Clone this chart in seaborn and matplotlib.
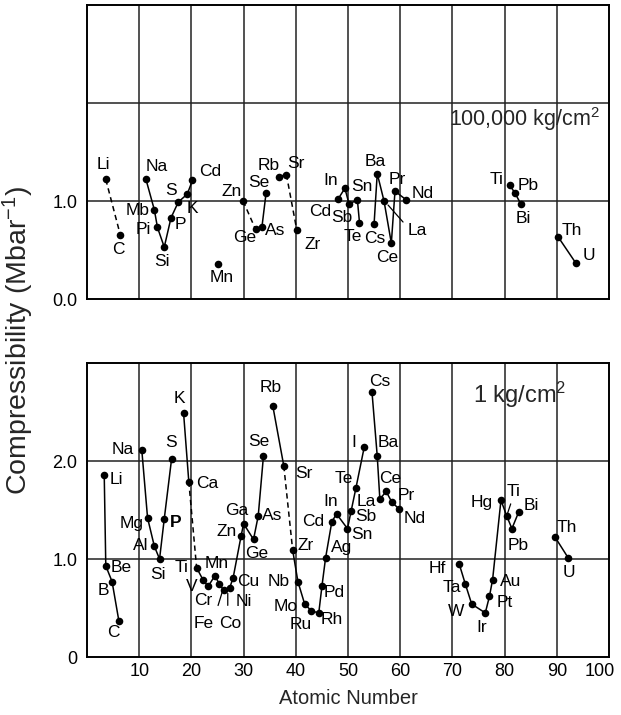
import matplotlib
matplotlib.use("Agg")
import matplotlib.pyplot as plt
import matplotlib.transforms as mtransforms
import pandas as pd
import seaborn as sns

# ---------------- data ----------------
# Upper panel: compressibility at 100,000 kg/cm^2
top_labels = ["Li", "C", "Na", "Mb", "Pi", "Si", "P", "S", "K", "Cd",
              "Mn", "Zn", "Ge", "As", "Se", "Rb", "Sr", "Zr",
              "Cd", "In", "Sb", "Sn", "Te",
              "Cs", "Ba", "La", "Ce", "Pr", "Nd",
              "Ti", "Pb", "Bi", "Th", "U"]
top_x = [3.6, 6.4, 11.3, 12.9, 13.5, 14.8, 16.1, 17.5, 19.2, 20.2,
         25.1, 29.9, 32.3, 33.5, 34.3, 36.8, 38.2, 40.2,
         48.1, 49.4, 50.2, 51.8, 52.2,
         55.0, 55.6, 56.9, 58.3, 59.0, 61.2,
         81.0, 82.0, 83.1, 90.3, 93.6]
top_y = [1.22, 0.65, 1.22, 0.91, 0.73, 0.53, 0.83, 0.99, 1.07, 1.21,
         0.36, 1.00, 0.71, 0.73, 1.08, 1.25, 1.27, 0.70,
         1.02, 1.13, 0.97, 1.01, 0.78,
         0.77, 1.28, 1.00, 0.57, 1.10, 1.01,
         1.16, 1.08, 0.97, 0.63, 0.37]
top_chain = [0, 1, 2, 2, 2, 2, 2, 2, 2, 2,
             3, 4, 5, 5, 5, 6, 6, 7,
             8, 8, 8, 8, 8,
             9, 9, 9, 9, 9, 9,
             10, 10, 10, 11, 11]
top_dashed = [(0, 1), (11, 12), (16, 17)]

# Lower panel: compressibility at 1 kg/cm^2
bot_labels = ["Li", "Be", "B", "C",
              "Na", "Mg", "Al", "Si", "P", "S",
              "K", "Ca",
              "Ti", "V", "Cr", "Mn", "Fe", "Co", "Ni", "Cu", "Zn", "Ga", "Ge", "As", "Se",
              "Rb", "Sr",
              "Zr", "Nb", "Mo", "Ru", "Rh", "Pd", "Ag", "Cd", "In", "Sn", "Sb", "Te", "I",
              "Cs", "Ba", "La", "Ce", "Pr", "Nd",
              "Hf", "Ta", "W", "Ir", "Pt", "Au", "Hg", "Ti", "Pb", "Bi",
              "Th", "U"]
bot_x = [3.3, 3.6, 4.8, 6.1,
         10.5, 11.6, 12.9, 13.9, 14.8, 16.2,
         18.5, 19.5,
         21.0, 22.2, 23.2, 24.5, 25.3, 26.2, 27.3, 28.0, 29.5, 30.0, 31.9, 32.8, 33.8,
         35.6, 37.7,
         39.4, 40.4, 41.7, 43.0, 44.4, 45.0, 45.7, 46.9, 47.8, 49.9, 50.6, 51.5, 53.1,
         54.6, 55.6, 56.1, 57.3, 58.4, 59.8,
         71.3, 72.5, 73.7, 76.3, 77.1, 77.7, 79.3, 80.4, 81.4, 82.7,
         89.7, 92.2]
bot_y = [1.86, 0.93, 0.77, 0.37,
         2.11, 1.42, 1.13, 1.00, 1.41, 2.02,
         2.49, 1.79,
         0.91, 0.79, 0.72, 0.83, 0.75, 0.68, 0.70, 0.81, 1.23, 1.36, 1.20, 1.44, 2.05,
         2.56, 1.95,
         1.09, 0.77, 0.54, 0.47, 0.45, 0.72, 1.01, 1.38, 1.46, 1.31, 1.49, 1.72, 2.14,
         2.70, 2.05, 1.61, 1.69, 1.58, 1.51,
         0.95, 0.74, 0.54, 0.45, 0.62, 0.79, 1.60, 1.44, 1.31, 1.48,
         1.22, 1.01]
bot_chain = [0, 0, 0, 0,
             1, 1, 1, 1, 1, 1,
             2, 2,
             3, 3, 3, 3, 3, 3, 3, 3, 3, 3, 3, 3, 3,
             4, 4,
             5, 5, 5, 5, 5, 5, 5, 5, 5, 5, 5, 5, 5,
             6, 6, 6, 6, 6, 6,
             7, 7, 7, 7, 7, 7, 7, 7, 7, 7,
             8, 8]
bot_dashed = [(11, 12), (26, 27)]

x_ticks = [10, 20, 30, 40, 50, 60, 70, 80, 90, 100]
top_yticks = [0.0, 1.0]
top_yticklabels = ["0.0", "1.0"]
bot_yticks = [0.0, 1.0, 2.0]
bot_yticklabels = ["0", "1.0", "2.0"]

# ---------------- label placement (pixels, +y downward) ----------------
top_offsets = [(-2, -15), (-2, 14), (11, -13), (-17, 1), (-14, 2), (-2, 14), (9, 7),
               (-7, -11), (5, 14), (18, -9),
               (4, 14), (-11, -10), (-11, 8), (13, 3), (-7, -11), (-10, -11), (9, -11),
               (16, 14),
               (-18, 12), (-14, -8), (-7, 14), (4, -14), (-7, 14),
               (1, 15), (-2, -12), (33, 29), (-4, 14), (2, -12), (16, -7),
               (-13, -6), (13, -8), (3, 15), (13, -7), (13, -7)]
bot_offsets = [(12, 5), (15, 2), (-9, 9), (-5, 12),
               (-19, -1), (-16, 6), (-14, -1), (-2, 15), (11, 4), (-1, -17),
               (-4, -14), (18, 2),
               (-15, 0), (-11, 7), (-5, 14), (2, -12), (-15, 40), (6, 33), (14, 13),
               (15, 4), (-14, -5), (-7, -13), (3, 14), (14, 0), (-5, -15),
               (-2, -19), (20, 8),
               (13, -5), (-19, 0), (-19, 2), (-11, 14), (13, 7), (12, 6), (16, -11),
               (-19, 0), (-6, -12), (14, 6), (15, 6), (-12, -10), (-10, -5),
               (8, -11), (11, -14), (-14, 2), (4, -13), (14, -7), (16, 9),
               (-22, 5), (-14, 3), (-16, 7), (-4, 15), (15, 6), (18, 2), (-19, 2),
               (7, -24), (6, 17), (13, -6),
               (12, -10), (1, 14)]
# leader lines: index -> (start offset, end offset) in pixels from the point
top_leaders = {25: ((4, 4), (19, 21))}
bot_leaders = {16: ((-1, 22), (3, 9)), 17: ((4, 15), (4, 3)), 53: ((0, 0), (4, -12))}
bot_bold = {8}

FONT = "Liberation Sans"
sns.set_theme(style="white")
plt.rcParams["font.family"] = [FONT, "DejaVu Sans"]
plt.rcParams["mathtext.fontset"] = "custom"
plt.rcParams["mathtext.rm"] = FONT
plt.rcParams["mathtext.it"] = FONT + ":italic"
plt.rcParams["mathtext.bf"] = FONT + ":bold"

DPI = 100
fig = plt.figure(figsize=(6.21, 7.15), dpi=DPI)
ax_top = fig.add_axes([0.1401, 0.5818, 0.8406, 0.4112])
ax_bot = fig.add_axes([0.1401, 0.0811, 0.8406, 0.4112])


def shifted(ax, dx, dy):
    return ax.transData + mtransforms.ScaledTranslation(dx / DPI, -dy / DPI, fig.dpi_scale_trans)


def draw_panel(ax, labels, xs, ys, chains, dashed, offsets, leaders, bold=()):
    df = pd.DataFrame({"x": xs, "y": ys, "chain": chains})
    sns.lineplot(data=df, x="x", y="y", units="chain", estimator=None, sort=False,
                 color="black", lw=1.1, ax=ax, legend=False)
    rows = []
    for k, (i, j) in enumerate(dashed):
        rows.append({"x": xs[i], "y": ys[i], "seg": k})
        rows.append({"x": xs[j], "y": ys[j], "seg": k})
    dd = pd.DataFrame(rows)
    sns.lineplot(data=dd, x="x", y="y", units="seg", estimator=None, sort=False,
                 color="black", lw=1.1, ax=ax, legend=False, linestyle=(0, (3.5, 2.5)))
    sns.scatterplot(data=df, x="x", y="y", color="black", s=30, linewidth=0,
                    ax=ax, legend=False, zorder=5)
    for i, lab in enumerate(labels):
        dx, dy = offsets[i]
        ax.annotate(lab, (xs[i], ys[i]), xytext=(dx, -dy), textcoords="offset pixels",
                    ha="center", va="center", fontsize=12.5, color="black",
                    fontweight="bold" if i in bold else "normal", zorder=6)
        if i in leaders:
            (sx, sy), (ex, ey) = leaders[i]
            ax.annotate("", xy=(xs[i], ys[i]), xycoords=shifted(ax, ex, ey),
                        xytext=(xs[i], ys[i]), textcoords=shifted(ax, sx, sy),
                        arrowprops=dict(arrowstyle="-", lw=0.9, color="black",
                                        shrinkA=0, shrinkB=0))


draw_panel(ax_top, top_labels, top_x, top_y, top_chain, top_dashed, top_offsets, top_leaders)
draw_panel(ax_bot, bot_labels, bot_x, bot_y, bot_chain, bot_dashed, bot_offsets, bot_leaders, bot_bold)

for ax in (ax_top, ax_bot):
    ax.set_xlim(0, 100)
    ax.set_ylim(0, 3)
    ax.set_xlabel("")
    ax.set_ylabel("")
    for v in x_ticks[:-1]:
        ax.axvline(v, color="#222222", lw=1.1, zorder=1)
    for h in (1.0, 2.0):
        ax.axhline(h, color="#222222", lw=1.1, zorder=1)
    for sp in ax.spines.values():
        sp.set_color("black")
        sp.set_linewidth(1.4)
    ax.tick_params(axis="both", length=0, labelsize=13, colors="black")
    ax.tick_params(axis="y", pad=7)

ax_top.set_xticks([])
ax_top.set_yticks(top_yticks)
ax_top.set_yticklabels(top_yticklabels)
ax_bot.set_xticks(x_ticks)
ax_bot.set_xticklabels([str(v) for v in x_ticks])
ax_bot.tick_params(axis="x", pad=4)
ax_bot.set_yticks(bot_yticks)
ax_bot.set_yticklabels(bot_yticklabels)
# keep the last tick label inside the figure
last = ax_bot.get_xticklabels()[-1]
last.set_transform(last.get_transform() + mtransforms.ScaledTranslation(-9 / DPI, 0, fig.dpi_scale_trans))

ax_top.text(98.3, 1.84, "100,000 kg/cm$^2$", ha="right", va="center", fontsize=15.5)
ax_bot.text(74, 2.67, "1 kg/cm$^2$", ha="left", va="center", fontsize=17)

ax_bot.set_xlabel("Atomic Number", fontsize=14.5, labelpad=7)
fig.text(0.029, 0.524, "Compressibility (Mbar$^{-1}$)", rotation=90,
         ha="center", va="center", fontsize=20.5)

fig.savefig("out.png", dpi=DPI)
